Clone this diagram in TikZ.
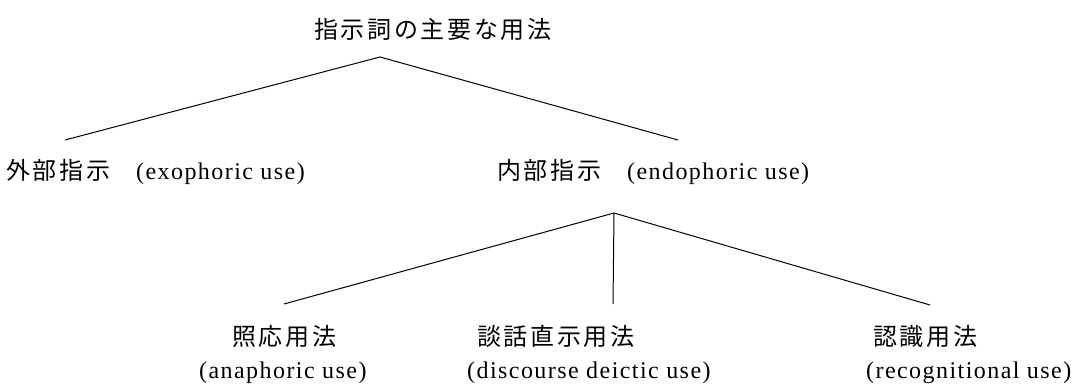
\documentclass[tikz,border=0pt]{standalone}
\usepackage{fontspec}
\setmainfont[LetterSpace=6]{Liberation Serif}
\newfontfamily\cjk[LetterSpace=11]{Noto Sans CJK JP}
\newcommand\jpfont{\cjk\fontsize{24pt}{28pt}\selectfont}
\begin{document}
\begin{tikzpicture}[x=1pt,y=-1pt,
  jp/.style={inner sep=0pt,anchor=west,font=\jpfont},
  en/.style={inner sep=0pt,anchor=west,font=\fontsize{24pt}{28pt}\selectfont},
  branch/.style={line width=1pt,black}]
\useasboundingbox (0,0) rectangle (1082,390);
% texts
\node[jp] (root) at (314,29) {指示詞の主要な用法};
\node[en] (exo) at (6,172) {{\jpfont 外部指示}\hspace{26pt}(exophoric use)};
\node[en] (endo) at (497,172) {{\jpfont 内部指示}\hspace{26pt}(endophoric use)};
\node[jp] (ana) at (232,336) {照応用法};
\node[en] (anaen) at (199,373) {(anaphoric use)};
\node[jp] (disc) at (477,336) {談話直示用法};
\node[en] (discen) at (467,373) {(discourse deictic use)};
\node[jp] (reco) at (873,336) {認識用法};
\node[en] (recoen) at (866,373) {(recognitional use)};
% connector points
\coordinate (rootb) at (380,57);
\coordinate (exot) at (65,140);
\coordinate (endot) at (678,140);
\coordinate (endob) at (614,213);
\coordinate (anat) at (284,304);
\coordinate (disct) at (613,304);
\coordinate (recot) at (930,305);
% connectors
\draw[branch] (exot) -- (rootb) -- (endot);
\draw[branch] (anat) -- (endob) -- (recot);
\draw[branch] (endob) -- (disct);
\end{tikzpicture}
\end{document}
